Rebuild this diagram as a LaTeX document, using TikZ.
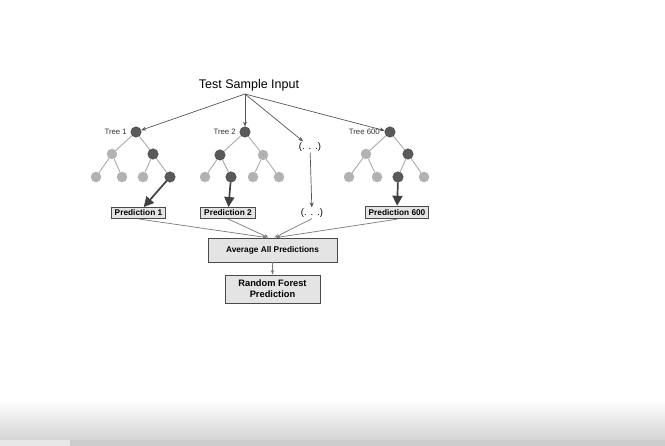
\documentclass[tikz,border=0pt]{standalone}
\usepackage{fontspec}
\setmainfont{Liberation Sans}
\usetikzlibrary{arrows.meta,calc}
\definecolor{nodedark}{HTML}{5A5A5A}
\definecolor{nodelight}{HTML}{B2B2B2}
\definecolor{edgegray}{HTML}{AAAAAA}
\definecolor{arrowgray}{HTML}{555555}
\definecolor{convgray}{HTML}{7A7A7A}
\definecolor{boxfill}{HTML}{E4E4E4}
\definecolor{boxborder}{HTML}{4A4A4A}
\begin{document}
\begin{tikzpicture}[x=1pt,y=-1pt,
  dk/.style={circle,fill=nodedark,draw=nodedark!70!black,line width=0.4pt,minimum size=10.5pt,inner sep=0pt},
  lt/.style={circle,fill=nodelight,minimum size=10.5pt,inner sep=0pt},
  tedge/.style={draw=edgegray,line width=0.9pt},
  thinarrow/.style={-{Stealth[length=5pt,width=4pt]},draw=arrowgray,line width=0.7pt},
  convarrow/.style={-{Stealth[length=4.5pt,width=3.5pt]},draw=convgray,line width=0.7pt},
  thickarrow/.style={-{Triangle[length=10pt,width=10pt]},draw=black!75,line width=1.7pt},
  predbox/.style={draw=boxborder,fill=boxfill,line width=0.9pt,font=\fontsize{8.3}{9}\selectfont\bfseries,inner xsep=3.5pt,inner ysep=0pt,minimum height=11pt},
  treelabel/.style={font=\fontsize{7.8}{9}\selectfont,text=black!80,anchor=east,inner sep=1pt},
  dotslabel/.style={font=\fontsize{9.5}{10}\selectfont,inner sep=1pt}
]
\useasboundingbox (0,0) rectangle (665,446);
% screen-capture gradient at the bottom
\fill[top color=white,bottom color=white] (0,378) rectangle (665,400);
\fill[top color=white,bottom color=black!17] (0,400) rectangle (665,440);
\fill[black!9] (0,440) rectangle (70,446);
\fill[black!20] (70,440) rectangle (665,446);

% title
\node[font=\fontsize{12.5}{14}\selectfont] (title) at (249,85) {Test Sample Input};
\coordinate (src) at (245,94);

% Tree 1
\node[dk] (t1r) at (136,132) {};
\node[lt] (t1a) at (112,154) {};
\node[dk] (t1b) at (153,154) {};
\node[lt] (t1aa) at (96,177) {};
\node[lt] (t1ab) at (122,177) {};
\node[lt] (t1ba) at (143,177) {};
\node[dk] (t1bb) at (170,177) {};
\node[treelabel] (l1) at (128,132) {Tree 1};
% Tree 2
\node[dk] (t2r) at (245,132) {};
\node[dk] (t2a) at (220,155) {};
\node[lt] (t2b) at (263,155) {};
\node[lt] (t2aa) at (205,177) {};
\node[dk] (t2ab) at (231,177) {};
\node[lt] (t2ba) at (253,177) {};
\node[lt] (t2bb) at (279,177) {};
\node[treelabel] (l2) at (237,132) {Tree 2};
% Tree 600
\node[dk] (t6r) at (390,132) {};
\node[lt] (t6a) at (366,154) {};
\node[dk] (t6b) at (408,154) {};
\node[lt] (t6aa) at (349,177) {};
\node[lt] (t6ab) at (377,177) {};
\node[dk] (t6ba) at (398,177) {};
\node[lt] (t6bb) at (424,177) {};
\node[treelabel] (l6) at (381,132) {Tree 600};

% tree edges
\foreach \t in {1,2,6}{
  \draw[tedge] (t\t r) -- (t\t a);
  \draw[tedge] (t\t r) -- (t\t b);
  \draw[tedge] (t\t a) -- (t\t aa);
  \draw[tedge] (t\t a) -- (t\t ab);
  \draw[tedge] (t\t b) -- (t\t ba);
  \draw[tedge] (t\t b) -- (t\t bb);
}

% dots
\node[dotslabel] (d1) at (310,147) {(.\hspace{4pt}.\hspace{4pt}.)};
\node[dotslabel] (d2) at (312,213) {(.\hspace{4pt}.\hspace{4pt}.)};

% predictions
\node[predbox] (p1) at (138.5,213) {Prediction 1};
\node[predbox] (p2) at (228,213) {Prediction 2};
\node[predbox,minimum height=12.5pt] (p6) at (397,212.5) {Prediction 600};

\node[predbox,minimum width=129pt,minimum height=24pt] (avg) at (272.5,250) {Average All Predictions};
\node[predbox,minimum width=95pt,minimum height=28pt,align=center,font=\fontsize{9.3}{11}\selectfont\bfseries] (rf) at (272.5,289) {Random Forest\\Prediction};

% arrows from input
\draw[thinarrow] (src) -- (t1r);
\draw[thinarrow] (src) -- (t2r);
\draw[thinarrow] (src) -- (d1);
\draw[thinarrow] (src) -- (t6r);
\draw[thinarrow] (d1) -- (d2);

% thick arrows to predictions
\draw[thickarrow] (t1bb) -- (p1);
\draw[thickarrow] (t2ab) -- (p2);
\draw[thickarrow] (t6ba) -- (p6);

% converging arrows
\draw[convarrow] (p1.south) -- ($(avg.north)+(-6,0)$);
\draw[convarrow] (p2.south) -- ($(avg.north)+(-4,0)$);
\draw[convarrow] (d2.south) -- ($(avg.north)+(2,0)$);
\draw[convarrow] (p6.south) -- ($(avg.north)+(4,0)$);
\draw[convarrow] (avg) -- (rf);
\end{tikzpicture}
\end{document}
